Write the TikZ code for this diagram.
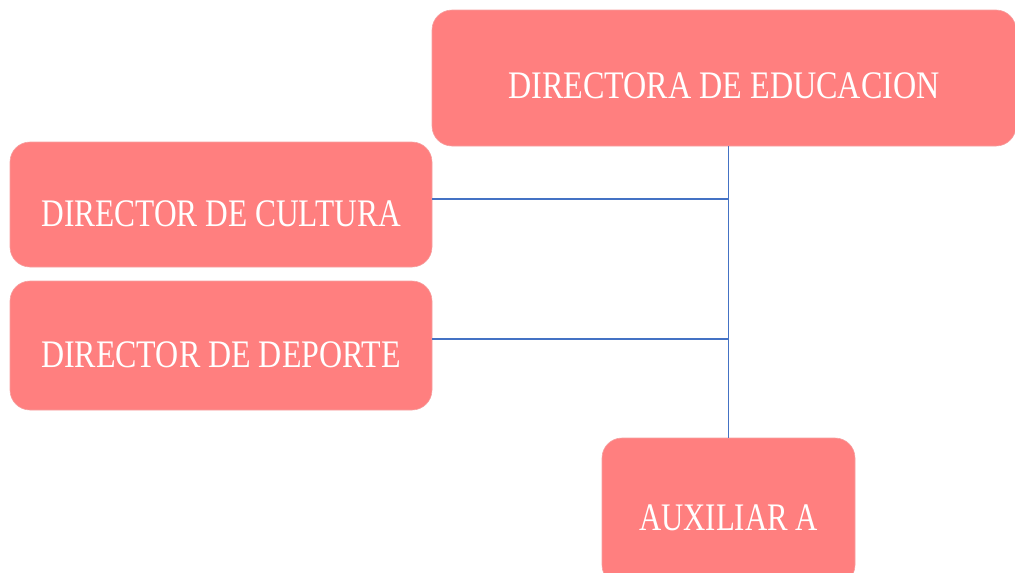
\documentclass[tikz,border=0pt]{standalone}
\usepackage{fontspec}
\setmainfont{Liberation Serif}
\definecolor{boxred}{HTML}{FF7F7F}
\definecolor{boxedge}{HTML}{F6A0A0}
\definecolor{linkblue}{HTML}{4472C4}
\tikzset{
  orgbox/.style={rectangle, rounded corners=20pt, fill=boxred, draw=boxedge, line width=0.6pt,
    text=white, inner sep=0pt, font=\fontsize{39}{39}\selectfont},
  link/.style={draw=linkblue, line width=1.1pt}
}
\begin{document}
\begin{tikzpicture}[x=1pt,y=-1pt]
\useasboundingbox (0,0) rectangle (1015,573);
\clip (0,0) rectangle (1015,573);
\node[orgbox, minimum width=584pt, minimum height=136pt] (dir) at (724,78)
  {\raisebox{-20pt}[0pt][0pt]{\scalebox{0.824}[1]{DIRECTORA DE EDUCACION}}};
\node[orgbox, minimum width=422pt, minimum height=125pt] (cult) at (221,204.5)
  {\raisebox{-21.5pt}[0pt][0pt]{\scalebox{0.805}[1]{DIRECTOR DE CULTURA}}};
\node[orgbox, minimum width=422pt, minimum height=129pt] (dep) at (221,345.5)
  {\raisebox{-21.5pt}[0pt][0pt]{\scalebox{0.82}[1]{DIRECTOR DE DEPORTE}}};
\node[orgbox, minimum width=253pt, minimum height=147pt] (aux) at (728.5,511.5)
  {\raisebox{-18.5pt}[0pt][0pt]{\scalebox{0.79}[1]{AUXILIAR A}}};
\draw[link] (aux.north) -- (aux.north |- dir.south);
\draw[link] ([yshift=5.5pt]cult.east) -- ([yshift=5.5pt]cult.east -| aux.north);
\draw[link] ([yshift=6.5pt]dep.east) -- ([yshift=6.5pt]dep.east -| aux.north);
\end{tikzpicture}
\end{document}
